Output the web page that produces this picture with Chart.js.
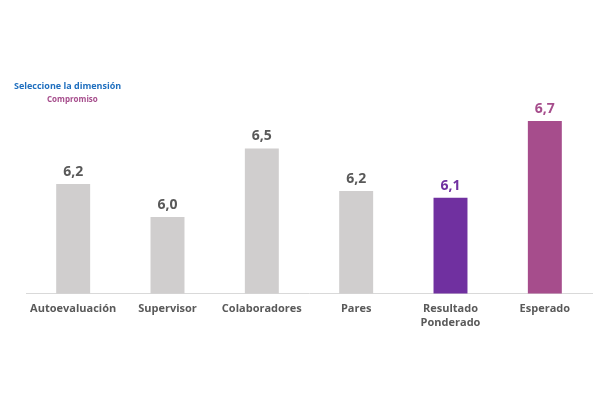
<!DOCTYPE html>
<html><head><meta charset="utf-8">
<script src="https://cdn.jsdelivr.net/npm/chart.js@4"></script>
<style>
body{margin:0;background:#fff;font-family:"Open Sans",sans-serif}
#wrap{position:relative;width:600px;height:416px}
#t1{position:absolute;left:14px;top:79px;font-size:9px;font-weight:bold;color:#1f6fbf}
#t2{position:absolute;left:47px;top:93px;font-size:8px;font-weight:bold;color:#a64d8c}
</style></head><body>
<div id="wrap"><canvas id="c" width="600" height="416"></canvas>
<div id="t1">Seleccione la dimensión</div><div id="t2">Compromiso</div></div>
<script>
const categories=[["Autoevaluación"],["Supervisor"],["Colaboradores"],["Pares"],["Resultado","Ponderado"],["Esperado"]];
const values=[6.24,6.0,6.5,6.19,6.14,6.7];
const barColors=["#d0cece","#d0cece","#d0cece","#d0cece","#7030a0","#a64d8c"];
const labelColors=["#595959","#595959","#595959","#595959","#7030a0","#a64d8c"];
const valueLabels={id:"vl",afterDatasetsDraw(ch){const c=ch.ctx;const m=ch.getDatasetMeta(0);c.save();c.font="bold 14px 'Open Sans'";c.textAlign="center";c.textBaseline="bottom";
m.data.forEach((b,i)=>{c.fillStyle=labelColors[i];c.fillText(values[i].toFixed(1).replace(".",","),b.x,b.y-5);});c.restore();}};
new Chart(document.getElementById("c"),{type:"bar",
data:{labels:categories,datasets:[{data:values,backgroundColor:barColors,categoryPercentage:1,barPercentage:0.36}]},
options:{responsive:false,animation:false,layout:{padding:{left:26,right:8,top:80,bottom:78}},
plugins:{legend:{display:false},tooltip:{enabled:false}},
scales:{y:{display:false,min:5.44,max:7.0},
x:{grid:{display:false,drawTicks:false},border:{color:"#d9d9d9"},ticks:{color:"#595959",font:{size:11,weight:"bold",family:"'Open Sans'"},padding:9,autoSkip:false,maxRotation:0}}}},
plugins:[valueLabels]});
</script></body></html>
